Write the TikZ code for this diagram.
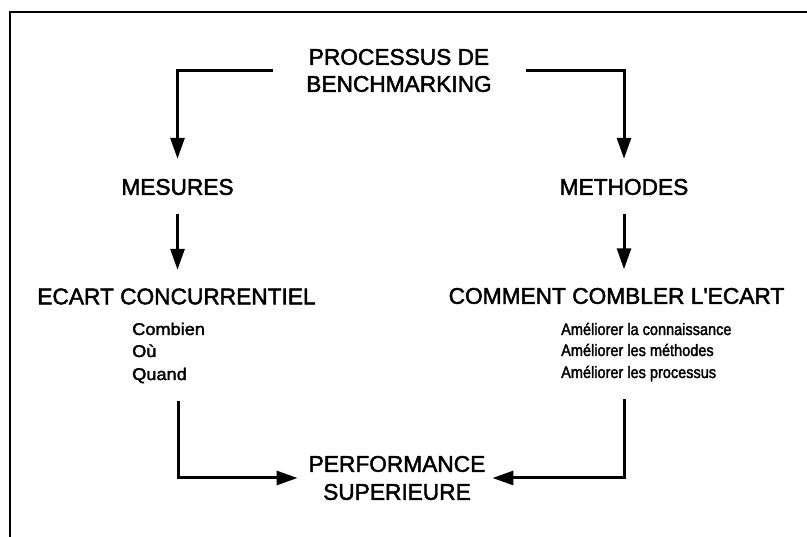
\documentclass[tikz,border=0pt]{standalone}
\usepackage{fontspec}
\setmainfont{Liberation Sans}
\newfontfamily\headfont{Liberation Sans}[FakeBold=2]
\newfontfamily\leftfont{Liberation Sans}[FakeBold=2,FakeStretch=1.07]
\newfontfamily\rightfont{Liberation Sans}[FakeBold=2,FakeStretch=0.88]
\usetikzlibrary{arrows.meta,calc}
\begin{document}
\begin{tikzpicture}[x=1pt,y=-1pt,
  head/.style={inner sep=0pt, font=\headfont\fontsize{22.7}{26}\selectfont},
  leftitem/.style={inner sep=0pt, anchor=base west, font=\leftfont\fontsize{17}{20}\selectfont},
  rightitem/.style={inner sep=0pt, anchor=base west, font=\rightfont\fontsize{16.5}{19}\selectfont},
  flow/.style={line width=3pt, -{Triangle[length=21pt,width=14pt]}},
  frameline/.style={line width=1.6pt}]
\useasboundingbox (0,0) rectangle (807,537);
% open frame: top and left edges
\draw[frameline] (10,537) -- (10,12) -- (807,12);

% titles
\node[head] (proc1) at (399,57) {PROCESSUS DE};
\node[head] (proc2) at (399,84) {BENCHMARKING};
\node[head] (mes)   at (177.5,187) {MESURES};
\node[head] (meth)  at (624,187) {METHODES};
\node[head] (ecart) at (176.5,296.5) {ECART CONCURRENTIEL};
\node[head] (comm)  at (616.5,296) {COMMENT COMBLER L\textquotesingle ECART};
\node[head] (perf1) at (397,464) {PERFORMANCE};
\node[head] (perf2) at (397,492) {SUPERIEURE};

% sub-items
\node[leftitem] (c1) at (132,335) {Combien};
\node[leftitem] (c2) at (132,357) {Où};
\node[leftitem] (c3) at (132,380) {Quand};
\node[rightitem] (a1) at (561,335) {Améliorer la connaissance};
\node[rightitem] (a2) at (561,356) {Améliorer les méthodes};
\node[rightitem] (a3) at (561,378) {Améliorer les processus};

% connector end points
\coordinate (tl) at (273,71);
\coordinate (tr) at (526,71);
\coordinate (bl) at (178,401);
\coordinate (br) at (624,399);
\coordinate (mid) at ($(perf1.center)!0.5!(perf2.center)$);

% connectors
\draw[flow, shorten >=20pt] (tl) -| (mes);
\draw[flow, shorten >=20pt] (tr) -| (meth);
\draw[flow, shorten <=18.5pt, shorten >=18.5pt] (mes) -- (mes |- ecart.north);
\draw[flow, shorten <=18.5pt, shorten >=18.5pt] (meth) -- (meth |- comm.north);
\draw[flow] (bl) |- ([xshift=-11pt]perf1.west |- mid);
\draw[flow] (br) |- ([xshift=7pt]perf1.east |- mid);
\end{tikzpicture}
\end{document}
